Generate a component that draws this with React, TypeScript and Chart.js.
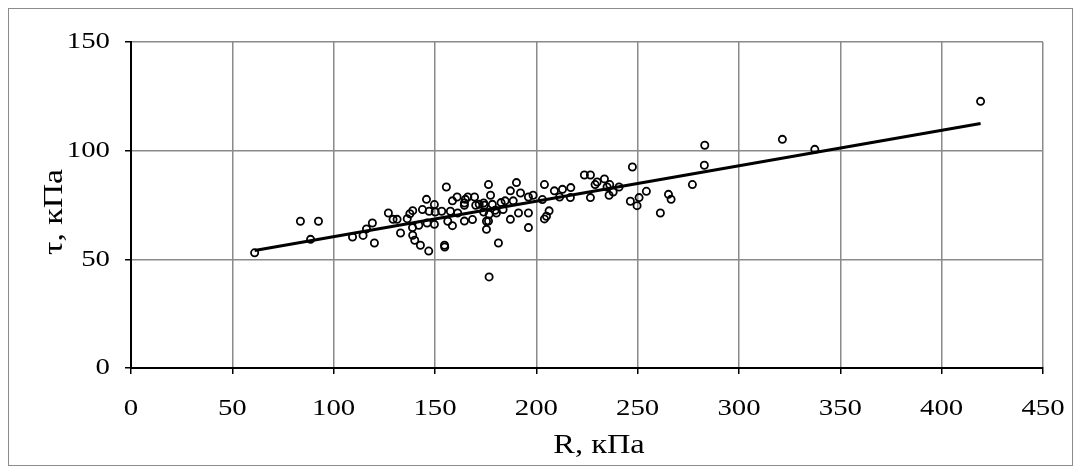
import React, { useEffect, useRef } from 'react';
import { Chart, registerables } from 'chart.js';

Chart.register(...registerables);

// R, кПа (normal stress)
const rValues: number[] = [
  61, 83.6, 92.5, 88.6, 109.3, 114.5, 116.2, 119.1, 120.1, 127,
  129.3, 131.3, 133, 136.3, 137.6, 139, 138.9, 139, 140, 142.8,
  142, 143.8, 145.8, 146.9, 147.1, 146.1, 149.7, 150.1, 149.7, 153.3,
  154.7, 154.8, 155.6, 156.3, 158.6, 158.6, 157.6, 160.9, 161.2, 164.5,
  165, 164.5, 166.2, 164.5, 169.5, 168.5, 170.1, 171.8, 174.4, 174,
  175.4, 176.4, 177.4, 176.4, 176.7, 178.3, 180.3, 179.7, 181.3, 176.7,
  182.6, 183.6, 184.6, 187.2, 187.2, 188.6, 190.2, 191.2, 192.2, 196.1,
  196.1, 196.1, 198.4, 203, 204, 204, 205, 206.3, 208.9, 211.5,
  212.9, 217, 216.8, 223.7, 226.7, 226.7, 229, 230, 233.6, 234.9,
  236.2, 235.9, 237.9, 240.8, 247.4, 246.4, 250.7, 249.7, 254.3, 261.2,
  265.2, 266.5, 277, 282.9, 283.1, 321.4, 337.4, 419.2, 174, 175.4
];

// τ, кПа (shear stress)
const tauValues: number[] = [
  53, 67.5, 67.5, 59.2, 60.3, 61, 64, 66.7, 57.5, 71.3,
  68.4, 68.4, 62.1, 68.7, 71, 72.4, 64.6, 61.1, 58.8, 56.5,
  65.7, 72.9, 77.6, 53.8, 72.1, 66.7, 75.2, 71.8, 66.1, 72.1,
  56.5, 55.7, 83.3, 67.5, 76.9, 65.5, 72.1, 78.7, 71.3, 74.9,
  77.6, 67.6, 78.7, 75.9, 78.7, 68.3, 74.9, 75.3, 74.9, 71.8,
  63.8, 84.4, 79.5, 67.6, 70.7, 75.3, 71.3, 72.6, 57.5, 41.9,
  76.1, 72.9, 76.9, 81.5, 68.4, 76.9, 85.3, 71.3, 80.5, 78.7,
  71.3, 64.6, 79.5, 77.5, 84.4, 68.6, 69.8, 72.3, 81.5, 78.7,
  82.2, 83, 78.4, 88.8, 88.8, 78.4, 84.4, 85.6, 87, 83.3,
  84.4, 79.5, 81, 83.3, 92.5, 76.7, 78.4, 74.7, 81.3, 71.3,
  79.9, 77.6, 84.4, 93.3, 102.5, 105.2, 100.6, 122.7, 75.9, 67.5
];

const xTickValues: number[] = [0, 50, 100, 150, 200, 250, 300, 350, 400, 450];
const yTickValues: number[] = [0, 50, 100, 150];

const xTitle = 'R, кПа';
const yTitle = 'τ, кПа';

const FONT = '"Liberation Serif", "Times New Roman", serif';

function linearFit(xs: number[], ys: number[]) {
  const n = xs.length;
  let sx = 0, sy = 0, sxx = 0, sxy = 0;
  for (let i = 0; i < n; i++) {
    sx += xs[i]; sy += ys[i]; sxx += xs[i] * xs[i]; sxy += xs[i] * ys[i];
  }
  const b = (n * sxy - sx * sy) / (n * sxx - sx * sx);
  const a = (sy - b * sx) / n;
  return { a, b };
}

function drawStretched(ctx: CanvasRenderingContext2D, text: string, x: number, y: number, sx: number, rot: number) {
  ctx.save();
  ctx.translate(x, y);
  if (rot) ctx.rotate(rot);
  ctx.scale(sx, 1);
  ctx.fillText(text, 0, 0);
  ctx.restore();
}

// Draws tick labels and axis titles (slightly wide serif text, as in the source)
const axisTextPlugin = {
  id: 'axisText',
  afterDraw(chart: any) {
    const ctx: CanvasRenderingContext2D = chart.ctx;
    const xs = chart.scales.x;
    const ys = chart.scales.y;
    const area = chart.chartArea;
    ctx.save();
    ctx.fillStyle = '#000';
    ctx.textBaseline = 'middle';

    ctx.font = `24px ${FONT}`;
    ctx.textAlign = 'center';
    xTickValues.forEach((v) => {
      drawStretched(ctx, String(v), xs.getPixelForValue(v), area.bottom + 41, 1.2, 0);
    });
    ctx.textAlign = 'right';
    yTickValues.forEach((v) => {
      drawStretched(ctx, String(v), area.left - 21, ys.getPixelForValue(v), 1.2, 0);
    });

    ctx.font = `27px ${FONT}`;
    ctx.textAlign = 'center';
    drawStretched(ctx, xTitle, (area.left + area.right) / 2 + 12, area.bottom + 78, 1.2, 0);
    drawStretched(ctx, yTitle, 46, (area.top + area.bottom) / 2 + 7, 1.25, -Math.PI / 2);
    ctx.restore();
  },
};

export default function App() {
  const canvasRef = useRef<HTMLCanvasElement | null>(null);

  useEffect(() => {
    if (!canvasRef.current) return;
    const points = rValues.map((x, i) => ({ x, y: tauValues[i] }));
    const { a, b } = linearFit(rValues, tauValues);
    const minX = Math.min(...rValues);
    const maxX = Math.max(...rValues);
    const trend = [
      { x: minX, y: a + b * minX },
      { x: maxX, y: a + b * maxX },
    ];

    const chart = new Chart(canvasRef.current, {
      type: 'scatter',
      data: {
        datasets: [
          {
            data: trend,
            showLine: true,
            borderColor: '#000',
            borderWidth: 3,
            pointRadius: 0,
          },
          {
            data: points,
            borderColor: '#000',
            backgroundColor: 'rgba(0,0,0,0)',
            borderWidth: 1.8,
            pointRadius: 3.6,
          },
        ],
      },
      options: {
        responsive: false,
        animation: false,
        layout: { padding: { left: 0, right: 29, top: 33, bottom: 0 } },
        plugins: {
          legend: { display: false },
          tooltip: { enabled: false },
        },
        scales: {
          x: {
            type: 'linear',
            min: 0,
            max: 450,
            afterBuildTicks: (scale: any) => {
              scale.ticks = xTickValues.map((v) => ({ value: v }));
            },
            afterFit: (scale: any) => {
              scale.height = 97;
            },
            grid: { color: '#8a8a8a', lineWidth: 1.5, tickColor: '#000', tickLength: 6 },
            border: { color: '#000', width: 2 },
            ticks: { display: false },
          },
          y: {
            type: 'linear',
            min: 0,
            max: 150,
            afterBuildTicks: (scale: any) => {
              scale.ticks = yTickValues.map((v) => ({ value: v }));
            },
            afterFit: (scale: any) => {
              scale.width = 122;
            },
            grid: { color: '#8a8a8a', lineWidth: 1.5, tickColor: '#000', tickLength: 6 },
            border: { color: '#000', width: 2 },
            ticks: { display: false },
          },
        },
      },
      plugins: [axisTextPlugin],
    });
    return () => chart.destroy();
  }, []);

  return (
    <div style={{ border: '1px solid #8c8c8c', width: 1063, height: 456, background: '#fff' }}>
      <canvas ref={canvasRef} width={1063} height={456} style={{ display: 'block' }} />
    </div>
  );
}
